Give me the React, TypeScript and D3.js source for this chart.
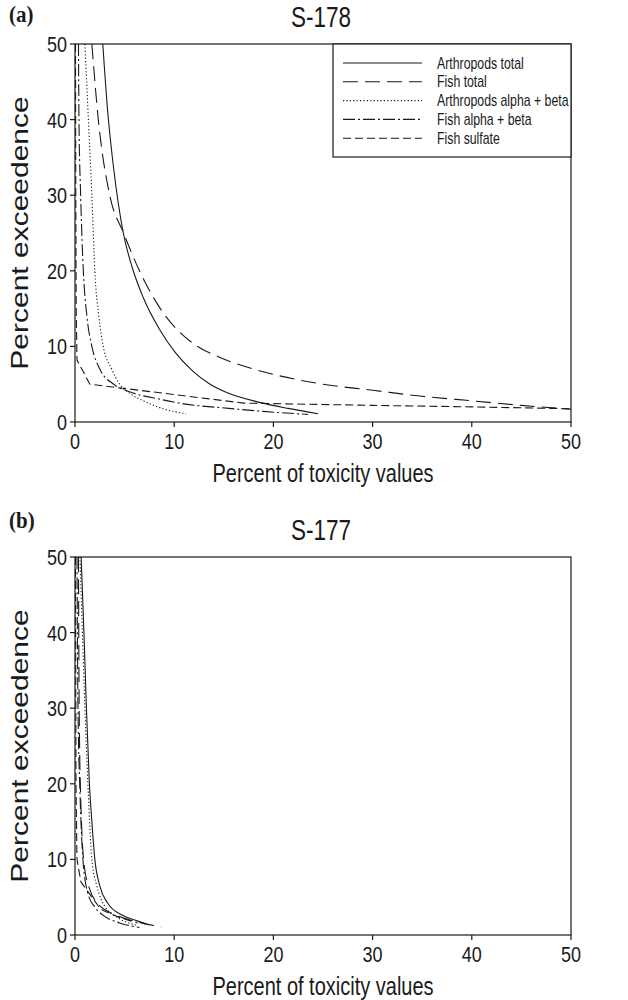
import React from "react";
import * as d3 from "d3";

type Pt = [number, number];

const xTicks = [0, 10, 20, 30, 40, 50];
const yTicks = [0, 10, 20, 30, 40, 50];

const seriesNames = [
  "Arthropods total",
  "Fish total",
  "Arthropods alpha + beta",
  "Fish alpha + beta",
  "Fish sulfate",
];

// Panel (a) S-178
const arthTotalA: Pt[] = [[2.8,50],[3.3,41],[3.9,33.5],[4.87,25],[5.8,20.3],[6.9,16.4],[8.5,12.3],[10.1,9.2],[11.9,6.7],[13.5,5.1],[15.3,3.9],[18.6,2.6],[21.5,1.8],[24.5,1.1]];
const fishTotalA: Pt[] = [[1.7,50],[2.35,40],[3.5,30],[4.9,25],[6.5,20],[8.6,15],[12,10.3],[14.5,8.6],[17,7.4],[20,6.3],[25,5.0],[30,4.2],[35,3.4],[40,2.8],[45,2.2],[50,1.7]];
const arthAlphaBetaA: Pt[] = [[1.0,50],[1.35,40],[1.7,30],[2.0,20],[2.4,14],[2.85,10],[3.7,7],[4.5,5],[5.5,3.8],[6.9,2.8],[9,1.7],[11.2,1.1]];
const fishAlphaBetaA: Pt[] = [[0.35,50],[0.4,40],[0.57,30],[0.84,20],[1.2,14],[1.7,10],[2.5,7],[3.9,5],[5.5,4],[8.6,3],[11,2.4],[15.5,1.8],[19,1.4],[23.5,1.0]];
const fishSulfateA: Pt[] = [[0.05,50],[0.08,30],[0.12,15],[0.2,8.2],[1.5,5.0],[17,2.5],[30,2.2],[40,2.0],[50,1.75]];

// Panel (b) S-177
const arthTotalB: Pt[] = [[0.62,50],[0.9,40],[1.15,30],[1.45,20],[1.7,15],[2.0,10],[2.5,6.5],[3.3,4.2],[4.8,2.6],[6.2,1.9],[7.3,1.4]];
const fishTotalB: Pt[] = [[0.35,50],[0.42,30],[0.6,17],[0.95,9],[1.5,6],[2.4,4],[3.5,3],[5,2.2],[7,1.5],[8.7,1.1]];
const arthAlphaBetaB: Pt[] = [[0.5,50],[0.75,40],[1.0,30],[1.3,20],[1.7,10],[2.2,6.5],[3.0,3.8],[4.3,2.3],[6.2,1.3]];
const fishAlphaBetaB: Pt[] = [[0.2,50],[0.3,30],[0.5,19],[0.8,10],[1.3,5.5],[2.0,3.7],[2.85,2.6],[4.5,1.6],[6.5,1.0]];
const fishSulfateB: Pt[] = [[0.05,50],[0.1,20],[0.2,10],[0.6,7],[2.6,3.4],[4.5,2.3],[6.3,1.6]];

const dashes = ["none", "15,7", "1.2,2.2", "12,3,2,3", "8,4"];
const smooth = [true, true, true, true, false];

const SANS = "'Liberation Sans', Arial, Helvetica, sans-serif";
const SERIF = "'Liberation Serif', 'Times New Roman', serif";
const INK = "#1a1a1a";

const W = 628;
const H = 1000;
const LEFT = 75;
const RIGHT = 571;

interface TProps {
  x: number;
  y: number;
  size: number;
  sx?: number;
  sy?: number;
  anchor?: string;
  rotate?: boolean;
  family?: string;
  weight?: string;
  children: React.ReactNode;
}

function T({ x, y, size, sx = 1, sy = 1.3, anchor = "start", rotate = false, family = SANS, weight = "normal", children }: TProps) {
  return (
    <text
      transform={`translate(${x},${y}) scale(${sx},${sy})${rotate ? " rotate(-90)" : ""}`}
      fontFamily={family}
      fontWeight={weight}
      fontSize={size}
      textAnchor={anchor}
      fill={INK}
    >
      {children}
    </text>
  );
}

interface PanelProps {
  label: string;
  labelY: number;
  title: string;
  top: number;
  bottom: number;
  series: Pt[][];
  legend: boolean;
  id: string;
}

function Panel({ label, labelY, title, top, bottom, series, legend, id }: PanelProps) {
  const x = d3.scaleLinear().domain([0, 50]).range([LEFT, RIGHT]);
  const y = d3.scaleLinear().domain([0, 50]).range([bottom, top]);
  const midY = (top + bottom) / 2;
  return (
    <g>
      <defs>
        <clipPath id={id}>
          <rect x={LEFT} y={top} width={RIGHT - LEFT} height={bottom - top} />
        </clipPath>
      </defs>
      <T x={9} y={labelY} size={21} sy={1.1} family={SERIF} weight="bold">{label}</T>
      <T x={321} y={top - 17} size={22.5} anchor="middle">{title}</T>
      <g clipPath={`url(#${id})`}>
        {series.map((s, i) => {
          const line = d3
            .line<Pt>()
            .x((d) => x(d[0]))
            .y((d) => y(d[1]))
            .curve(smooth[i] ? d3.curveMonotoneX : d3.curveLinear);
          return (
            <path key={i} d={line(s) || ""} fill="none" stroke={INK} strokeWidth={1.1}
              strokeDasharray={dashes[i] === "none" ? undefined : dashes[i]} />
          );
        })}
      </g>
      <rect x={LEFT} y={top} width={RIGHT - LEFT} height={bottom - top} fill="none" stroke={INK} strokeWidth={1.2} />
      {xTicks.map((t) => (
        <g key={"x" + t}>
          <line x1={x(t)} x2={x(t)} y1={bottom} y2={bottom + 5} stroke={INK} strokeWidth={1.2} />
          <T x={x(t)} y={bottom + 27} size={18} sy={1.25} anchor="middle">{t}</T>
        </g>
      ))}
      {yTicks.map((t) => (
        <g key={"y" + t}>
          <line x1={LEFT - 5} x2={LEFT} y1={y(t)} y2={y(t)} stroke={INK} strokeWidth={1.2} />
          <T x={LEFT - 8} y={y(t) + 8} size={18} sy={1.25} anchor="end">{t}</T>
        </g>
      ))}
      <T x={(LEFT + RIGHT) / 2} y={bottom + 60} size={20} anchor="middle">Percent of toxicity values</T>
      <T x={28} y={midY} size={30} sx={0.8} sy={1} anchor="middle" rotate={true}>Percent exceedence</T>
      {legend && (
        <g>
          <rect x={333} y={top} width={RIGHT - 333} height={113} fill="white" stroke={INK} strokeWidth={1.2} />
          {seriesNames.map((n, i) => {
            const ry = top + 19 + i * 18.8;
            return (
              <g key={n}>
                <line x1={343} x2={422} y1={ry} y2={ry} stroke={INK} strokeWidth={1.1}
                  strokeDasharray={dashes[i] === "none" ? undefined : dashes[i]} />
                <T x={437} y={ry + 5.5} size={12.3} sy={1.3}>{n}</T>
              </g>
            );
          })}
        </g>
      )}
    </g>
  );
}

export default function App() {
  return (
    <svg width={W} height={H} style={{ position: "absolute", left: 0, top: 0, background: "white" }}>
      <rect x={0} y={0} width={W} height={H} fill="white" />
      <Panel id="clipA" label="(a)" labelY={22} title="S-178" top={44} bottom={422} legend={true}
        series={[arthTotalA, fishTotalA, arthAlphaBetaA, fishAlphaBetaA, fishSulfateA]} />
      <Panel id="clipB" label="(b)" labelY={528} title="S-177" top={557} bottom={935} legend={false}
        series={[arthTotalB, fishTotalB, arthAlphaBetaB, fishAlphaBetaB, fishSulfateB]} />
    </svg>
  );
}
